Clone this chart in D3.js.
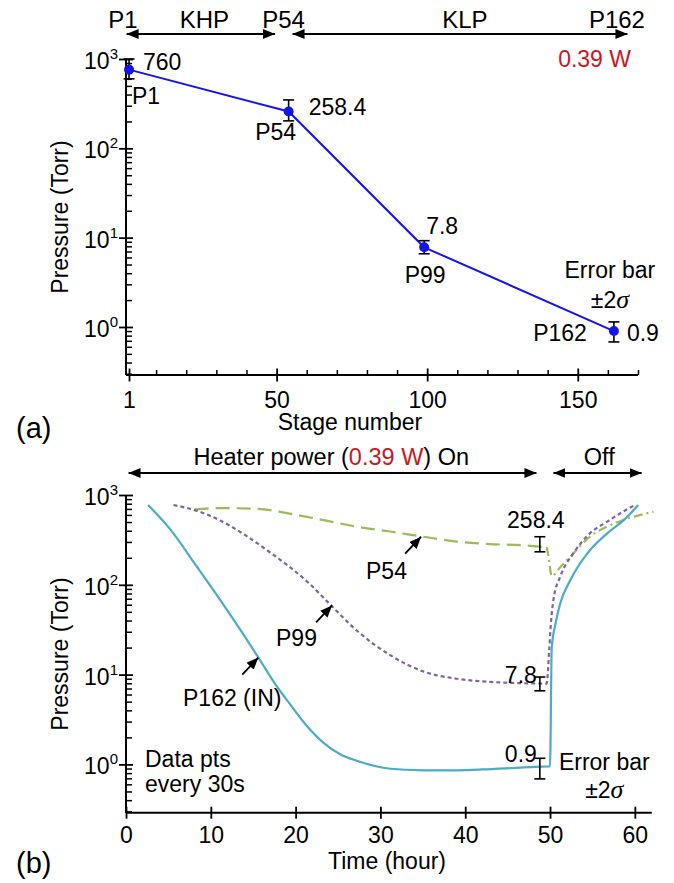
<!DOCTYPE html>
<html>
<head>
<meta charset="utf-8">
<script src="https://cdn.jsdelivr.net/npm/d3@7"></script>
<style>
body { margin: 0; background: #fff; }
text { font-family: "Liberation Sans", Arial, sans-serif; fill: #000; }
</style>
</head>
<body>
<script>

// ---- panel (a): pressure per stage ----
const stages = [1, 54, 99, 162];
const stageNames = ["P1", "P54", "P99", "P162"];
const stageP = [760, 258.4, 7.8, 0.9];
const stageLo = [600, 203, 6.6, 0.68];
const stageHi = [1000, 348, 9.25, 1.14];
const stageTicks = [1, 50, 100, 150];
const stageMinor = [10, 20, 30, 40, 60, 70, 80, 90, 110, 120, 130, 140, 160, 170];

// ---- panel (b): pressure vs time ----
const p162T = [2.6, 5.2, 8.3, 11.1, 13.9, 15.8, 17.5, 19.4, 21.3, 23.3, 25.3, 27.2, 31.2, 35, 37.1, 42, 46.5, 49.9, 50.0, 50.2, 50.65, 51.2, 52.4, 54.4, 56.75, 58.7, 60.4];
const p162P = [773, 417, 162, 68, 27.5, 14.5, 8.1, 4.6, 2.7, 1.74, 1.29, 1.10, 0.895, 0.86, 0.857, 0.88, 0.92, 0.95, 0.95, 20, 37, 62, 113, 224, 374, 525, 773];

const p99T = [5.6, 8.3, 11.1, 14.2, 17, 19.3, 21.3, 24.1, 27.2, 31.1, 35.1, 39, 42.9, 46.5, 49.6, 49.9, 50.1, 50.4, 51.2, 52.75, 54.7, 56.7, 58.6, 60.0];
const p99P = [773, 670, 520, 350, 229, 158, 110, 60, 31, 16.6, 10.8, 9.0, 8.3, 8.03, 7.95, 18.6, 37, 68, 123, 224, 374, 503, 652, 773];

const p54OnT = [8.1, 11, 15, 20.5, 23.3, 27.2, 31.1, 35.1, 39, 42.9, 46.5, 49.6];
const p54OnP = [690, 715, 705, 590, 525, 444, 392, 343, 303, 284, 276, 262];
const p54OffT = [49.6, 49.8, 50.2, 51.2, 52.75, 54.7, 56.7, 58.6, 62.2];
const p54OffP = [262, 214, 125, 157, 224, 343, 444, 525, 652];

const errT = 48.8;
const errMid = [258.4, 7.8, 0.9];
const errLo = [233, 6.6, 0.69];
const errHi = [343, 9.4, 1.17];

const timeTicks = [0, 10, 20, 30, 40, 50, 60];
const decades = [1, 10, 100, 1000];

const red = "#c8171e";

const svg = d3.select("body").append("svg")
  .attr("width", 674)
  .attr("height", 883);

svg.append("defs").append("marker")
  .attr("id", "head")
  .attr("viewBox", "0 0 12 10")
  .attr("refX", 12).attr("refY", 5)
  .attr("markerWidth", 12).attr("markerHeight", 10)
  .attr("markerUnits", "userSpaceOnUse")
  .attr("orient", "auto-start-reverse")
  .append("path").attr("d", "M0,0L12,5L0,10Z").attr("fill", "#000");

// scales
const xA = d3.scaleLinear().domain([0, 170]).range([126, 638]);
const yA = d3.scaleLog().domain([0.29, 1000]).range([375, 59]);
const xB = d3.scaleLinear().domain([0, 62]).range([126, 651.8]);
const yB = d3.scaleLog().domain([0.29, 1000]).range([812.7, 495]);

// log y axis with minor ticks inside, crossing decade ticks and 10^n labels
function logAxis(y, x0) {
  const g = svg.append("g");
  g.append("g").attr("transform", `translate(${x0},0)`)
    .call(d3.axisRight(y).tickValues(y.ticks().filter(v => !decades.includes(v))).tickSize(6).tickFormat(""))
    .call(s => s.select(".domain").remove())
    .call(s => s.selectAll(".tick line").attr("stroke-width", 1.5));
  g.append("g").attr("transform", `translate(${x0},0)`)
    .call(d3.axisLeft(y).tickValues(decades).tickSize(7).tickFormat(""))
    .call(s => s.select(".domain").remove())
    .call(s => s.selectAll(".tick line").attr("x1", 7).attr("stroke-width", 1.8));
  g.append("line")
    .attr("x1", x0).attr("x2", x0)
    .attr("y1", y.range()[0]).attr("y2", y.range()[1])
    .attr("stroke", "#000").attr("stroke-width", 2);
  const lab = g.selectAll(".dec").data(decades).join("text")
    .attr("class", "dec")
    .attr("x", x0 - 8)
    .attr("y", d => y(d) + 10)
    .attr("text-anchor", "end")
    .attr("font-size", 23);
  lab.append("tspan").text("10");
  lab.append("tspan").attr("font-size", 15).attr("dy", -10).text(d => Math.round(Math.log10(d)));
  return g;
}

function yTitle(cy) {
  svg.append("text")
    .attr("transform", `translate(68,${cy}) rotate(-90)`)
    .attr("text-anchor", "middle")
    .attr("font-size", 23)
    .text("Pressure (Torr)");
}

function arrow(x1, x2, y) {
  svg.append("line")
    .attr("x1", x1).attr("x2", x2).attr("y1", y).attr("y2", y)
    .attr("stroke", "#000").attr("stroke-width", 1.8)
    .attr("marker-start", "url(#head)").attr("marker-end", "url(#head)");
}

function pointer(x, y) {
  svg.append("line")
    .attr("x1", x - 16).attr("y1", y + 17).attr("x2", x).attr("y2", y)
    .attr("stroke", "#000").attr("stroke-width", 1.8)
    .attr("marker-end", "url(#head)");
}

// ================= panel (a) =================
logAxis(yA, 126);
yTitle(217);

// x axis
svg.append("line")
  .attr("x1", 126).attr("x2", xA(170))
  .attr("y1", 375).attr("y2", 375)
  .attr("stroke", "#000").attr("stroke-width", 2);
svg.append("g").attr("transform", "translate(0,375)")
  .call(d3.axisTop(xA).tickValues(stageMinor).tickSize(5).tickFormat(""))
  .call(s => s.select(".domain").remove())
  .call(s => s.selectAll(".tick line").attr("stroke-width", 1.5));
svg.append("g").attr("transform", "translate(0,375)")
  .call(d3.axisBottom(xA).tickValues(stageTicks).tickSize(6.5))
  .attr("font-family", null).attr("font-size", null)
  .call(s => s.select(".domain").remove())
  .call(s => s.selectAll(".tick line").attr("y1", -6.5).attr("stroke-width", 1.8))
  .call(s => s.selectAll(".tick text").attr("y", 33).attr("dy", null).attr("font-size", 23));

svg.append("text").attr("x", 350).attr("y", 430).attr("text-anchor", "middle")
  .attr("font-size", 23).text("Stage number");
svg.append("text").attr("x", 16).attr("y", 438)
  .attr("font-family", "Liberation Serif, Times New Roman, serif").attr("font-size", 29).text("(a)");

// top annotation
arrow(xA(0.2), xA(49.5), 34);
arrow(xA(55.3), xA(166.5), 34);
[["P1", -1], ["KHP", 26], ["P54", 52.3], ["KLP", 112.5], ["P162", 163]].forEach(([t, s]) => {
  svg.append("text").attr("x", xA(s)).attr("y", 28).attr("text-anchor", "middle")
    .attr("font-size", 24).text(t);
});
svg.append("text").attr("x", 631).attr("y", 67).attr("text-anchor", "end")
  .attr("font-size", 23).style("fill", red).text("0.39 W");

// line + points + error bars
const stageData = stages.map((s, i) => ({ s, p: stageP[i], lo: stageLo[i], hi: stageHi[i], name: stageNames[i] }));

svg.append("path")
  .datum(stageData)
  .attr("fill", "none")
  .attr("stroke", "#1414e6")
  .attr("stroke-width", 2)
  .attr("d", d3.line().x(d => xA(d.s)).y(d => yA(d.p)));

const eb = svg.append("g").attr("stroke", "#000").attr("stroke-width", 1.6);
stageData.forEach(d => {
  eb.append("line").attr("x1", xA(d.s)).attr("x2", xA(d.s)).attr("y1", yA(d.lo)).attr("y2", yA(d.hi));
  eb.append("line").attr("x1", xA(d.s) - 5.5).attr("x2", xA(d.s) + 5.5).attr("y1", yA(d.lo)).attr("y2", yA(d.lo));
  eb.append("line").attr("x1", xA(d.s) - 5.5).attr("x2", xA(d.s) + 5.5).attr("y1", yA(d.hi)).attr("y2", yA(d.hi));
});

svg.selectAll(".dot").data(stageData).join("circle")
  .attr("class", "dot")
  .attr("cx", d => xA(d.s)).attr("cy", d => yA(d.p)).attr("r", 5)
  .attr("fill", "#1414e6");

// value + name labels
const valOff = [[14, 0, "start"], [20, 4, "start"], [2, -13, "start"], [13, 10, "start"]];
const nameOff = [[17, 34, "middle"], [-13, 29, "middle"], [1, 36, "middle"], [-27, 10, "end"]];
stageData.forEach((d, i) => {
  svg.append("text").attr("x", xA(d.s) + valOff[i][0]).attr("y", yA(d.p) + valOff[i][1])
    .attr("text-anchor", valOff[i][2]).attr("font-size", 23).text(d.p);
  svg.append("text").attr("x", xA(d.s) + nameOff[i][0]).attr("y", yA(d.p) + nameOff[i][1])
    .attr("text-anchor", nameOff[i][2]).attr("font-size", 23).text(d.name);
});

function errLegend(cx, y1, y2) {
  svg.append("text").attr("x", cx).attr("y", y1).attr("text-anchor", "middle")
    .attr("font-size", 23).text("Error bar");
  const t = svg.append("text").attr("x", cx).attr("y", y2).attr("text-anchor", "middle")
    .attr("font-size", 23);
  t.append("tspan").text("\u00b12");
  t.append("tspan").attr("font-family", "Liberation Serif, Times New Roman, serif")
    .attr("font-style", "italic").attr("font-size", 26).text("\u03c3");
}
errLegend(xA(162) - 4, 278, 308);

// ================= panel (b) =================
logAxis(yB, 126);
yTitle(654);

svg.append("line")
  .attr("x1", 126).attr("x2", xB(62))
  .attr("y1", 812.7).attr("y2", 812.7)
  .attr("stroke", "#000").attr("stroke-width", 2);
svg.append("g").attr("transform", "translate(0,812.7)")
  .call(d3.axisBottom(xB).tickValues(timeTicks).tickSize(6))
  .attr("font-family", null).attr("font-size", null)
  .call(s => s.select(".domain").remove())
  .call(s => s.selectAll(".tick line").attr("y1", -6).attr("stroke-width", 1.8))
  .call(s => s.selectAll(".tick text").attr("y", 30).attr("dy", null).attr("font-size", 23));

svg.append("text").attr("x", 387).attr("y", 869).attr("text-anchor", "middle")
  .attr("font-size", 23).text("Time (hour)");
svg.append("text").attr("x", 16).attr("y", 873)
  .attr("font-family", "Liberation Serif, Times New Roman, serif").attr("font-size", 29).text("(b)");

// heater annotation
arrow(xB(0.3), xB(48.4), 473);
arrow(xB(50.4), xB(60.8), 473);
const ht = svg.append("text").attr("x", xB(24.2)).attr("y", 465).attr("text-anchor", "middle").attr("font-size", 23.5);
ht.append("tspan").text("Heater power (");
ht.append("tspan").style("fill", red).text("0.39 W");
ht.append("tspan").text(") On");
svg.append("text").attr("x", xB(55.8)).attr("y", 465).attr("text-anchor", "middle")
  .attr("font-size", 23.5).text("Off");

const lineB = d3.line().curve(d3.curveMonotoneX).x(d => xB(d[0])).y(d => yB(d[1]));
const zip = (a, b) => a.map((v, i) => [v, b[i]]);

svg.append("path").datum(zip(p54OnT, p54OnP))
  .attr("fill", "none").attr("stroke", "#9bbb59").attr("stroke-width", 2.2)
  .attr("stroke-dasharray", "14,7").attr("d", lineB);
svg.append("path").datum(zip(p54OffT, p54OffP))
  .attr("fill", "none").attr("stroke", "#9bbb59").attr("stroke-width", 2.2)
  .attr("stroke-dasharray", "9,4,2,4").attr("d", lineB);
svg.append("path").datum(zip(p99T, p99P))
  .attr("fill", "none").attr("stroke", "#8064a2").attr("stroke-width", 2.2)
  .attr("stroke-dasharray", "4,3").attr("d", lineB);
svg.append("path").datum(zip(p162T, p162P))
  .attr("fill", "none").attr("stroke", "#4bacc6").attr("stroke-width", 2.2)
  .attr("d", lineB);

// error bars at end of heating
const ebB = svg.append("g").attr("stroke", "#000").attr("stroke-width", 1.6);
errMid.forEach((m, i) => {
  const x = xB(errT);
  ebB.append("line").attr("x1", x).attr("x2", x).attr("y1", yB(errLo[i])).attr("y2", yB(errHi[i]));
  ebB.append("line").attr("x1", x - 5.5).attr("x2", x + 5.5).attr("y1", yB(errLo[i])).attr("y2", yB(errLo[i]));
  ebB.append("line").attr("x1", x - 5.5).attr("x2", x + 5.5).attr("y1", yB(errHi[i])).attr("y2", yB(errHi[i]));
});
svg.append("text").attr("x", xB(errT) - 4).attr("y", yB(errHi[0]) - 9).attr("text-anchor", "middle")
  .attr("font-size", 23).text(errMid[0]);
svg.append("text").attr("x", xB(errT) - 3).attr("y", yB(errHi[1]) + 6).attr("text-anchor", "end")
  .attr("font-size", 23).text(errMid[1]);
svg.append("text").attr("x", xB(errT) - 3).attr("y", yB(errHi[2]) + 4).attr("text-anchor", "end")
  .attr("font-size", 23).text(errMid[2]);

errLegend(xB(56.4), 770, 798);

// curve labels
svg.append("text").attr("x", 366).attr("y", 579).attr("font-size", 23).text("P54");
pointer(xB(34.8), yB(343));
svg.append("text").attr("x", 276).attr("y", 646).attr("font-size", 23).text("P99");
pointer(xB(24.3), yB(59));
svg.append("text").attr("x", 183).attr("y", 706).attr("font-size", 23).text("P162 (IN)");
pointer(xB(15.6), yB(15.5));

svg.append("text").attr("x", 145).attr("y", 767).attr("font-size", 23).text("Data pts");
svg.append("text").attr("x", 145).attr("y", 792).attr("font-size", 23).text("every 30s");

</script>
</body>
</html>
